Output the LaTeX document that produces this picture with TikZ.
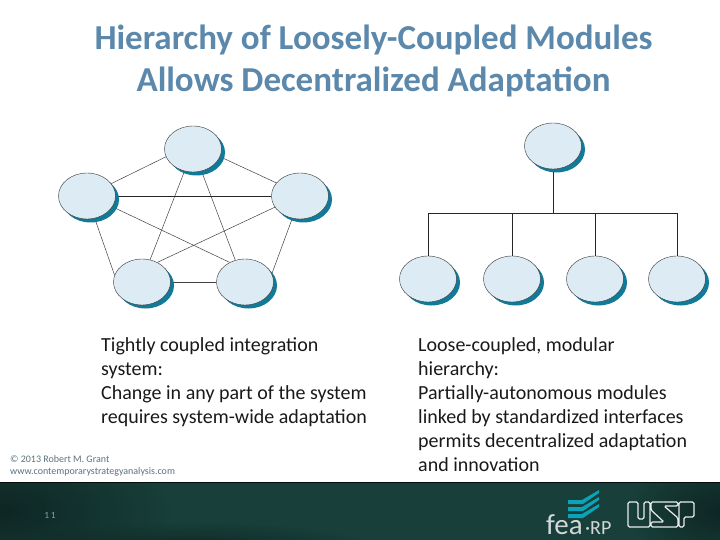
\documentclass[tikz,border=0pt]{standalone}
\usepackage{fontspec}
\setmainfont{Carlito}
\usetikzlibrary{shapes.geometric,shadows,backgrounds,fadings}
\definecolor{titleblue}{HTML}{5B88AB}
\definecolor{modulefill}{HTML}{DCEBF4}
\definecolor{moduleshadow}{HTML}{117A99}
\definecolor{footgreen}{HTML}{183F39}
\definecolor{footdark}{HTML}{0E2624}
\definecolor{creditgrey}{HTML}{5A7280}
\tikzfading[name=softedge, inner color=transparent!0, outer color=transparent!100]
\tikzset{
    module/.style={ellipse, draw=black!80, line width=0.4, fill=modulefill, minimum width=57, minimum height=46, inner sep=0,
        general shadow={fill=moduleshadow, shadow xshift=3.5, shadow yshift=3.5}},
    link/.style={draw=black!75, line width=0.5},
    tree/.style={draw=black!85, line width=0.8},
    caption/.style={anchor=north west, align=left, inner sep=0, text=black!90, font=\fontsize{20}{24}\selectfont},
    headline/.style={anchor=center, align=center, inner sep=0, text=titleblue, font=\fontsize{35}{42}\selectfont\bfseries}
}
\begin{document}
\begin{tikzpicture}[x=1pt,y=-1pt]
    \useasboundingbox (0,0) rectangle (720,540);

    % Footer
    \fill[footgreen] (0,482) rectangle (720,540);
    \begin{scope}
        \clip (0,482) rectangle (720,540);
        \fill[footdark, path fading=softedge] (0,511) ellipse (170 and 75);
        \fill[footdark, path fading=softedge] (190,552) ellipse (190 and 30);
        \fill[footdark, path fading=softedge] (720,511) ellipse (90 and 60);
    \end{scope}
    \draw[black!80!footgreen, line width=1] (0,482) -- (720,482);

    % Title
    \node[headline] (title) at (373.5,61) {Hierarchy of Loosely-Coupled Modules\\Allows Decentralized Adaptation};

    % Pentagon
    \node[module] (top) at (193,149) {};
    \node[module] (left) at (87,196) {};
    \node[module] (right) at (300,196) {};
    \node[module] (lowleft) at (142,282) {};
    \node[module] (lowright) at (245,282) {};

    % Hierarchy
    \node[module] (boss) at (553,146) {};
    \foreach \name/\x in {unita/428,unitb/512,unitc/595,unitd/677} {
        \node[module] (\name) at (\x,279) {};
    }
    \coordinate (bus) at (553,213);

    \begin{scope}[on background layer]
        \foreach \a/\b in {top.196/left.27,top.-16/right.151,top.249/lowleft.70,top.-69/lowright.114,left.-71/lowleft.166,left.-23/lowright.128,right.204/lowleft.52,right.251/lowright.17,lowleft.0/lowright.180} {
            \draw[link] (\a) -- (\b);
        }
        \draw[tree] (left.0) -- (right.180);
        \draw[tree] (boss) -- (bus);
        \foreach \name in {unita,unitb,unitc,unitd} {
            \draw[tree] (\name.north) |- (bus);
        }
    \end{scope}

    % Captions
    \node[caption] (tight) at (101,337) {Tightly coupled integration\\system:\\Change in any part of the system\\requires system-wide adaptation};
    \node[caption] (loose) at (418,337) {Loose-coupled, modular\\hierarchy:\\Partially-autonomous modules\\linked by standardized interfaces\\permits decentralized adaptation\\and innovation};

    % Credit
    \node[anchor=north west, align=left, inner sep=0, text=creditgrey, font=\fontsize{10}{12.5}\selectfont] (credit) at (10,455) {© 2013 Robert M. Grant\\www.contemporarystrategyanalysis.com};
    \node[text=creditgrey!70!white, font=\fontsize{9.5}{10}\selectfont] (page) at (50,515) {1\,1};

    % Logos
    \foreach \y in {0,7,14} {
        \fill[moduleshadow!70!cyan] (568,500+\y) -- (582,500+\y) -- (599,490+\y) -- (599,493+\y) -- (583,504+\y) -- (568,504+\y) -- cycle;
    }
    \node[anchor=base west, inner sep=0, text=white!80!footgreen, font=\fontsize{29}{29}\selectfont] (fea) at (546,534) {fea};
    \node[anchor=base west, inner sep=0, text=white!80!footgreen, font=\fontsize{20}{20}\selectfont] (rp) at (585,534) {·RP};
    \draw[white!90!footgreen, line width=1.2, rounded corners=1.5]
        (628,502) -- (638,502) -- (638,519) -- (644,519) -- (644,502) -- (650,502) -- (650,527) -- (628,527) -- cycle
        (651,502) -- (678,502) -- (678,506) -- (664,506) -- (678,518) -- (678,527) -- (651,527) -- (651,522) -- (664,522) -- (651,510) -- cycle
        (679,502) -- (694,502) -- (694,517) -- (684,517) -- (684,527) -- (679,527) -- cycle;
\end{tikzpicture}
\end{document}
